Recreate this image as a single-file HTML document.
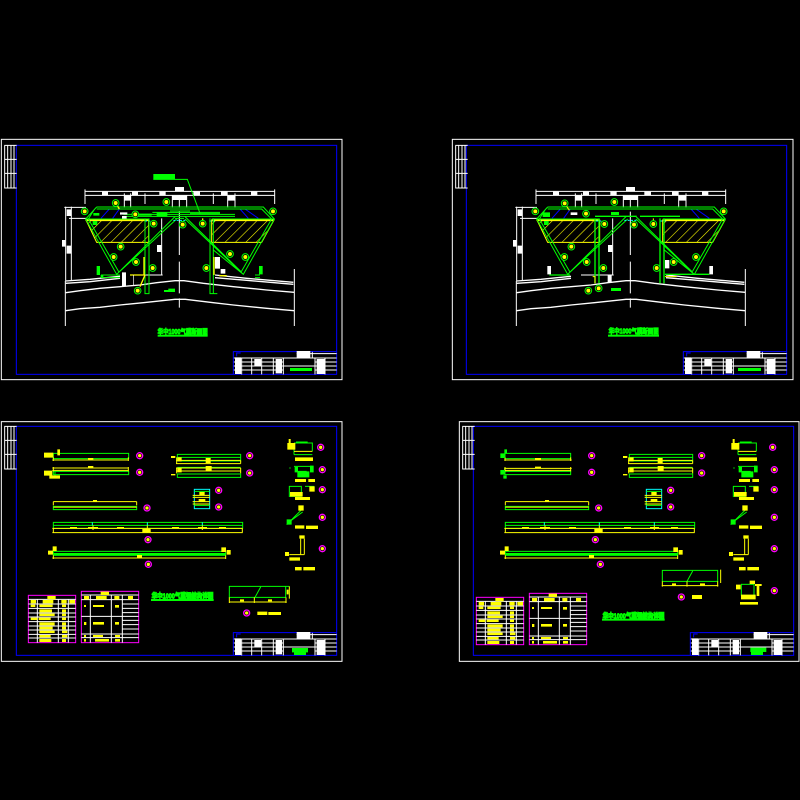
<!DOCTYPE html>
<html lang="zh"><head><meta charset="utf-8"><title>CAD sheets</title>
<style>html,body{margin:0;padding:0;background:#000;width:800px;height:800px;overflow:hidden}svg{display:block}text{font-family:"Liberation Sans","Noto Sans CJK SC",sans-serif;font-weight:bold}</style></head>
<body>
<svg width="800" height="800" viewBox="0 0 800 800" xmlns="http://www.w3.org/2000/svg">
<rect width="800" height="800" fill="#000"/>
<defs>
<pattern id="h" width="22" height="22" patternUnits="userSpaceOnUse" patternTransform="rotate(45)"><rect width="22" height="22" fill="none"/><line x1="0" y1="0" x2="0" y2="22" stroke="#ff0" stroke-width="3.5"/></pattern>

<g id="tab" fill="none" stroke="#fff" stroke-width="3"><path d="M0 1H37M0 43H37M0 85H37M0 129H37M1 1V130M10 1V130M20 1V130M29 1V130"/></g>

<g id="tb">
<path d="M700 669H1010M700 681H850M700 693H1010M700 705H850M945 681H1010M945 705H1010M890 656H1010" stroke="#fff" stroke-width="3" fill="none"/>
<path d="M725 669V718M755 669V718M785 669V718M820 669V718M850 669V718M945 669V718M975 669V718M937 648V669" stroke="#fff" stroke-width="3" fill="none"/>
<path d="M718 650H700V718M700 650H1010M722 654H710V664" stroke="#00f" stroke-width="3" fill="none"/>
<path d="M705 667h18v50h-18zM763 672h20v20h-20zM827 672h19v20h-19zM827 693h19v22h-19zM950 672h24v45h-24zM890 648h41v21h-41z" fill="#fff"/>
</g>

<g id="br">
<path d="M255 169H825M255 181H825M255 163V207M824 163V207M373 175V218M392 175V218M435 175V207M517 180V218M538 180V218M560 180V218M640 175V207M683 180V218M705 175V218M197 215V438M214 215V438M193 217H258M207 250H258M538 230V360M538 380V475M538 490V518M485 250V420M390 420H488M196 438V573M883 402V573" stroke="#fff" stroke-width="3" fill="none"/>
<path d="M306 170h18v10h-18zM396 170h18v10h-18zM478 170h19v10h-19zM580 170h20v10h-20zM663 170h20v10h-20zM753 170h19v10h-19zM525 156h27v12h-27zM372 182h21v15h-21zM516 182h44v13h-44zM684 182h22v15h-22zM200 223h14v20h-14zM200 332h14v24h-14zM186 315h10v20h-10zM471 330h13v21h-13z" fill="#fff"/>
<path d="M197 445L270 440 360 430M197 438L270 433 360 424M197 473L240 467 300 460 360 455 420 450 470 443 525 437 552 437 610 445 700 455 800 465 882 472M197 527L240 521 300 517 360 510 430 503 525 493 556 493 640 503 700 510 800 520 882 527M645 420L740 430 880 442M645 428L740 436 880 448" stroke="#fff" stroke-width="4" fill="none"/>
<path d="M258 255H446V322H290ZM635 255H822L785 322H635Z" fill="url(#h)" stroke="#ff0" stroke-width="3"/>
<path d="M257 256H446M635 256H822" stroke="#ff0" stroke-width="5"/>
<path d="M303 250L328 222H358L338 250M720 222L745 250M703 222H735L775 250" stroke="#00f" stroke-width="3" fill="none"/>
<path d="M290 216H790L823 252 730 418 640 345M290 222H785L815 252 724 410M290 216L257 252 350 418 530 252M284 222L265 252 356 410M350 418L525 245M730 418L555 252M723 410L555 245M257 252H446M635 252H823" stroke="#0f0" stroke-width="3" fill="none"/>
<path d="M435 258H452M520 256H556M628 258H646" stroke="#0ff" stroke-width="3" stroke-dasharray="6 4" fill="none"/>
</g>

<g id="rows">
<path d="M532 109h190v20h-190zM532 168h190v10h-190zM532 118H722M532 148H722" fill="none" stroke="#0f0" stroke-width="3"/>
<path d="M528 137H722M528 127H722M528 150H722M528 159H722M530 118V137M722 128V137M530 150V166M722 150V166" fill="none" stroke="#ff0" stroke-width="3"/>
<path d="M617 120h15v15h-15zM617 144h18v16h-18zM513 114h13v6h-13zM532 118h13v12h-13zM513 168h13v4h-13zM532 150h13v13h-13z" fill="#ff0"/>
<path d="M160 265h250v10h-250z" fill="none" stroke="#0f0" stroke-width="3"/>
<path d="M160 251H410M160 251V262M410 251V262" fill="none" stroke="#ff0" stroke-width="3"/>
<rect x="279" y="246" width="12" height="6" fill="#ff0"/>
<rect x="160" y="266" width="250" height="3" fill="#ff0"/>
<path d="M160 313H728V331H160ZM160 322H728" fill="none" stroke="#0f0" stroke-width="3"/>
<path d="M277 313V322M442 313V322M607 313V322" stroke="#0ff" stroke-width="3" fill="none"/>
<path d="M157 331H728M157 344H728M160 331V344M727 331V344M279 322V336M442 322V344M607 322V336" fill="none" stroke="#ff0" stroke-width="3"/>
<path d="M210 327h21v4h-21zM264 327h30v4h-30zM351 327h21v4h-21zM516 327h21v4h-21zM594 327h27v4h-27zM657 327h21v4h-21zM427 333h25v10h-25z" fill="#ff0"/>
<rect x="160" y="400" width="517" height="12" fill="none" stroke="#0f0" stroke-width="3"/>
<rect x="160" y="405" width="517" height="6" fill="#0f0"/>
<path d="M157 420H677M160 412V423M677 412V423" fill="none" stroke="#ff0" stroke-width="3"/>
<path d="M411 411h15v8h-15zM144 398h15v12h-15zM158 385h12v14h-12zM664 388h14v14h-14zM680 396h12v14h-12z" fill="#ff0"/>
<rect x="583" y="214" width="46" height="58" fill="none" stroke="#0ff" stroke-width="3"/>
<path d="M583 220H629M583 262H629M583 232V240M583 250V262" fill="none" stroke="#0f0" stroke-width="3"/>
<path d="M578 232H629M578 238H629M578 251H629M578 258H629" fill="none" stroke="#ff0" stroke-width="3"/>
<path d="M598 222h16v10h-16zM596 243h20v8h-20z" fill="#ff0"/>
</g>

<g id="tb1">
<rect x="85" y="532" width="142" height="142" fill="none" stroke="#f0f" stroke-width="3"/>
<path d="M85 544H227M85 558H227M85 571H227M85 585H227M85 597H227M85 611H227M85 624H227M85 636H227M85 649H227M85 660H227M112 544V674M175 544V674M205 544V674" fill="none" stroke="#fff" stroke-width="3"/>
<path d="M142 534h25v10h-25zM92 546h16v10h-16zM128 546h32v10h-32zM184 546h16v10h-16zM208 546h17v10h-17zM92 560h14v7h-14zM118 560h40v7h-40zM186 560h12v7h-12zM118 574h38v9h-38zM186 574h12v9h-12zM118 587h46v7h-46zM186 587h12v7h-12zM92 599h20v7h-20zM116 599h36v7h-36zM186 599h12v7h-12zM118 613h46v9h-46zM186 613h12v9h-12zM118 626h40v8h-40zM186 626h12v8h-12zM118 638h46v7h-46zM186 638h16v7h-16zM118 651h34v7h-34zM186 651h16v7h-16zM118 663h36v9h-36zM186 663h12v9h-12z" fill="#ff0"/>
<rect x="244" y="520" width="172" height="154" fill="none" stroke="#f0f" stroke-width="3"/>
<path d="M244 531H416M244 545H416M244 595H416M244 648H416M244 659H416M271 531V674M334 531V674M367 531V674M367 558H416M367 571H416M367 584H416M367 607H416M367 620H416M367 633H416" fill="none" stroke="#fff" stroke-width="3"/>
<path d="M302 521h25v10h-25zM252 534h15v10h-15zM288 534h32v10h-32zM343 534h15v10h-15zM384 534h15v10h-15zM252 561h6v6h-6zM279 561h33v6h-33zM345 561h12v8h-12zM252 612h7v9h-7zM279 612h33v8h-33zM345 612h12v8h-12zM252 651h6v6h-6zM279 651h30v6h-30zM345 651h15v6h-15zM252 663h6v8h-6zM285 663h42v8h-42zM345 663h15v8h-15z" fill="#ff0"/>
</g>

<g id="ri"><circle r="9" fill="#000" stroke="#f0f" stroke-width="4"/><circle r="5" fill="#ff0"/></g>
<g id="gi"><circle r="10" fill="#000" stroke="#0f0" stroke-width="3"/><circle r="6" fill="#ff0"/></g>
</defs>

<!-- Sheet A -->
<g transform="translate(0 135) scale(.33333)">
<rect x="4" y="13" width="1022" height="721" fill="none" stroke="#fff" stroke-width="3"/>
<rect x="49" y="31" width="961" height="687" fill="none" stroke="#00f" stroke-width="3"/>
<use href="#tab" x="13" y="30"/>
<use href="#br"/>
<path d="M435 250V476H447V250M630 250V476H652M640 250V476M303 420H360M303 428H360M765 420H780M765 428H780M370 238H705M370 244H705M457 232H660M510 228H570M570 236H660M525 250L552 250M460 133H562L600 235" stroke="#0f0" stroke-width="3" fill="none"/>
<path d="M290 393h10v27h-10zM777 393h11v25h-11zM302 420h8v8h-8zM280 234h18v8h-18zM278 258h14v12h-14zM492 465h33v6h-33zM505 461h20v4h-20zM470 233h32v12h-32zM415 236h40v6h-40z" fill="#0f0"/>
<path d="M460 117h65v16h-65z" fill="#0f0"/>
<path d="M432 366V420M642 366V420M390 420H435M420 455L435 420M658 422H680M347 204L358 222M608 250V266" stroke="#ff0" stroke-width="4" fill="none"/>
<path d="M366 412h12v43h-12zM360 232h22v7h-22zM366 243h14v8h-14zM645 366h15v35h-15zM662 402h14v14h-14zM400 420h2v30h-2z" fill="#fff"/>
<use href="#gi" x="347" y="204"/><use href="#gi" x="499" y="201"/><use href="#gi" x="254" y="229"/><use href="#gi" x="819" y="229"/><use href="#gi" x="406" y="238"/><use href="#gi" x="461" y="266"/><use href="#gi" x="548" y="269"/><use href="#gi" x="608" y="266"/><use href="#gi" x="362" y="335"/><use href="#gi" x="341" y="366"/><use href="#gi" x="408" y="381"/><use href="#gi" x="458" y="399"/><use href="#gi" x="619" y="399"/><use href="#gi" x="690" y="357"/><use href="#gi" x="736" y="366"/><use href="#gi" x="413" y="467"/>
<text x="473" y="597" font-size="21" fill="#0f0" stroke="#0f0" stroke-width="2.5" textLength="150" lengthAdjust="spacingAndGlyphs">华中1000气膜断面图</text>
<rect x="473" y="599" width="150" height="6" fill="#0f0"/>
<use href="#tb"/>
<rect x="870" y="699" width="66" height="9" fill="#0f0"/>
</g>

<!-- Sheet B -->
<g transform="translate(450 135) scale(.33333)">
<rect x="7" y="13" width="1022" height="721" fill="none" stroke="#fff" stroke-width="3"/>
<rect x="49" y="31" width="961" height="687" fill="none" stroke="#00f" stroke-width="3"/>
<use href="#tab" x="16" y="30"/>
<g transform="translate(3 0)"><use href="#br"/></g>
<path d="M435 250V445M447 250V445M630 250V445M642 250V445M298 420H360M645 418H778M520 244L560 244M570 244H690M435 244H525" stroke="#0f0" stroke-width="4" fill="none"/>
<path d="M278 232h22v14h-22zM282 258h14v12h-14zM483 231h24v9h-24zM483 459h30v9h-30z" fill="#0f0"/>
<path d="M428 425H435V445M645 425H680M344 205L358 226M610 250V267" stroke="#ff0" stroke-width="3" fill="none"/>
<path d="M292 393h11v25h-11zM778 393h11v25h-11zM362 232h20v8h-20zM645 375h13v25h-13zM473 420h12v23h-12z" fill="#fff"/>
<use href="#gi" x="344" y="205"/><use href="#gi" x="493" y="201"/><use href="#gi" x="256" y="229"/><use href="#gi" x="821" y="229"/><use href="#gi" x="408" y="236"/><use href="#gi" x="463" y="267"/><use href="#gi" x="552" y="269"/><use href="#gi" x="610" y="267"/><use href="#gi" x="364" y="335"/><use href="#gi" x="343" y="366"/><use href="#gi" x="410" y="381"/><use href="#gi" x="460" y="399"/><use href="#gi" x="620" y="399"/><use href="#gi" x="671" y="381"/><use href="#gi" x="738" y="366"/><use href="#gi" x="415" y="467"/><use href="#gi" x="446" y="460"/>
<text x="476" y="595" font-size="21" fill="#0f0" stroke="#0f0" stroke-width="2.5" textLength="150" lengthAdjust="spacingAndGlyphs">华中1000气膜断面图</text>
<rect x="474" y="599" width="153" height="6" fill="#0f0"/>
<use href="#tb"/>
<rect x="864" y="699" width="69" height="9" fill="#0f0"/>
</g>

<!-- Sheet C -->
<g transform="translate(0 418) scale(.33333)">
<rect x="4" y="11" width="1022" height="719" fill="none" stroke="#fff" stroke-width="3"/>
<rect x="49" y="25" width="961" height="687" fill="none" stroke="#00f" stroke-width="3"/>
<use href="#tab" x="13" y="24"/>
<path d="M160 106h226v16h-226zM160 160h226v10h-226zM165 160v20h15" fill="none" stroke="#0f0" stroke-width="3"/>
<path d="M157 126H386M157 150H386M157 157H386M160 118V129M385 118V129M160 147V160M385 147V160" fill="none" stroke="#ff0" stroke-width="3"/>
<path d="M264 120h16v5h-16zM264 144h16v6h-16zM132 104h28v15h-28zM172 94h8v18h-8zM132 158h25v15h-25zM148 172h32v10h-32z" fill="#ff0"/>
<use href="#rows"/>
<use href="#ri" x="419" y="113"/><use href="#ri" x="419" y="163"/><use href="#ri" x="749" y="113"/><use href="#ri" x="749" y="165"/><use href="#ri" x="441" y="270"/><use href="#ri" x="656" y="217"/><use href="#ri" x="656" y="267"/><use href="#ri" x="444" y="365"/><use href="#ri" x="445" y="439"/><use href="#ri" x="962" y="88"/><use href="#ri" x="967" y="155"/><use href="#ri" x="967" y="215"/><use href="#ri" x="967" y="298"/><use href="#ri" x="967" y="392"/>
<g id="dets">
<path d="M882 75h55v25M882 75v35M882 110h55M888 72h35M882 145h55v15M890 160h30M868 205h36v30h-36zM915 205h28M860 320L905 275M870 310L908 282" fill="none" stroke="#0f0" stroke-width="3"/>
<path d="M868 150h4" stroke="#0f0" stroke-width="3"/>
<path d="M884 147h10v16h-10zM930 143h11v20h-11zM892 160h36v18h-36zM860 304h15v16h-15z" fill="#0f0"/>
<path d="M862 75h24v20h-24zM866 63h6v12h-6zM885 118h54v11h-54zM885 183h33v9h-33zM925 183h20v9h-20zM885 237h45v9h-45zM928 205h16v16h-16zM870 222h38v14h-38zM885 322h28v10h-28zM918 323h36v10h-36zM895 262h16v16h-16zM885 447h20v10h-20zM910 447h35v10h-35zM855 402h12v12h-12zM868 418h32v10h-32zM898 352h16v10h-16z" fill="#ff0"/>
<path d="M882 100H937M902 362V410H868M913 362V410M900 410H913" fill="none" stroke="#ff0" stroke-width="3"/>
</g>
<use href="#tb1"/>
<text x="455" y="542" font-size="22" fill="#0f0" stroke="#0f0" stroke-width="3" textLength="185" lengthAdjust="spacingAndGlyphs">华中1000气膜钢结构详图</text>
<rect x="453" y="543" width="188" height="6" fill="#0f0"/>
<path d="M688 505H857V538H688ZM857 505H868M765 538L782 507" fill="none" stroke="#0f0" stroke-width="3"/>
<path d="M688 552H860M688 538V555M763 538V555M858 538V555M868 505V542" fill="none" stroke="#ff0" stroke-width="3"/>
<path d="M720 544h12v6h-12zM804 544h12v6h-12zM772 581h30v10h-30zM805 582h38v9h-38zM860 515h6v14h-6z" fill="#ff0"/>
<use href="#ri" x="740" y="585"/>
<g transform="translate(0 -6)"><use href="#tb"/><path d="M876 696h48v13h-6v8h-36v-8h-6z" fill="#0f0"/></g>
</g>

<!-- Sheet D -->
<g transform="translate(455 418) scale(.33333)">
<rect x="13" y="11" width="1019" height="719" fill="none" stroke="#fff" stroke-width="3"/>
<rect x="55" y="25" width="961" height="687" fill="none" stroke="#00f" stroke-width="3"/>
<use href="#tab" x="22" y="24"/>
<path d="M150 106h197v16h-197zM150 160h197v10h-197zM149 160v-10" fill="none" stroke="#0f0" stroke-width="3"/>
<path d="M148 126H350M148 151H350M148 157H347M150 118V129M347 118V129M150 147V160M347 147V160" fill="none" stroke="#ff0" stroke-width="3"/>
<path d="M240 120h18v5h-18zM240 146h18v5h-18z" fill="#ff0"/>
<path d="M136 106h14v14h-14zM148 94h8v12h-8zM136 156h14v14h-14zM145 172h10v10h-10z" fill="#0f0"/>
<g transform="translate(-9 0)"><use href="#rows"/></g>
<use href="#ri" x="410" y="113"/><use href="#ri" x="410" y="163"/><use href="#ri" x="740" y="113"/><use href="#ri" x="740" y="165"/><use href="#ri" x="431" y="270"/><use href="#ri" x="647" y="217"/><use href="#ri" x="647" y="267"/><use href="#ri" x="421" y="365"/><use href="#ri" x="436" y="439"/><use href="#ri" x="953" y="88"/><use href="#ri" x="958" y="155"/><use href="#ri" x="958" y="215"/><use href="#ri" x="958" y="298"/><use href="#ri" x="958" y="392"/><use href="#ri" x="958" y="518"/><use href="#ri" x="679" y="537"/>
<g transform="translate(-33 0)"><use href="#dets"/></g>
<rect x="859" y="499" width="38" height="33" fill="none" stroke="#0f0" stroke-width="3"/>
<path d="M843 500h14v14h-14zM884 488h16v10h-16zM900 498h20v6h-20zM905 504h8v30h-8zM858 530h44v14h-44zM855 552h54v8h-54zM711 531h30v12h-30z" fill="#ff0"/>
<path d="M622 457H788V490H622ZM788 457V492M696 490L713 459" fill="none" stroke="#0f0" stroke-width="3"/>
<path d="M620 503H790M622 490V506M696 490V506M788 490V506M797 455V495" fill="none" stroke="#ff0" stroke-width="3"/>
<path d="M651 496h12v6h-12zM735 496h15v6h-15z" fill="#ff0"/>
<g transform="translate(-21 6)"><use href="#tb1"/></g>
<text x="443" y="601" font-size="22" fill="#0f0" stroke="#0f0" stroke-width="3" textLength="185" lengthAdjust="spacingAndGlyphs">华中1000气膜钢结构详图</text>
<rect x="441" y="602" width="188" height="6" fill="#0f0"/>
<g transform="translate(6 -6)"><use href="#tb"/><path d="M880 695h48v13h-10v9h-36v-9h-2z" fill="#0f0"/></g>
</g>
</svg>
</body></html>
